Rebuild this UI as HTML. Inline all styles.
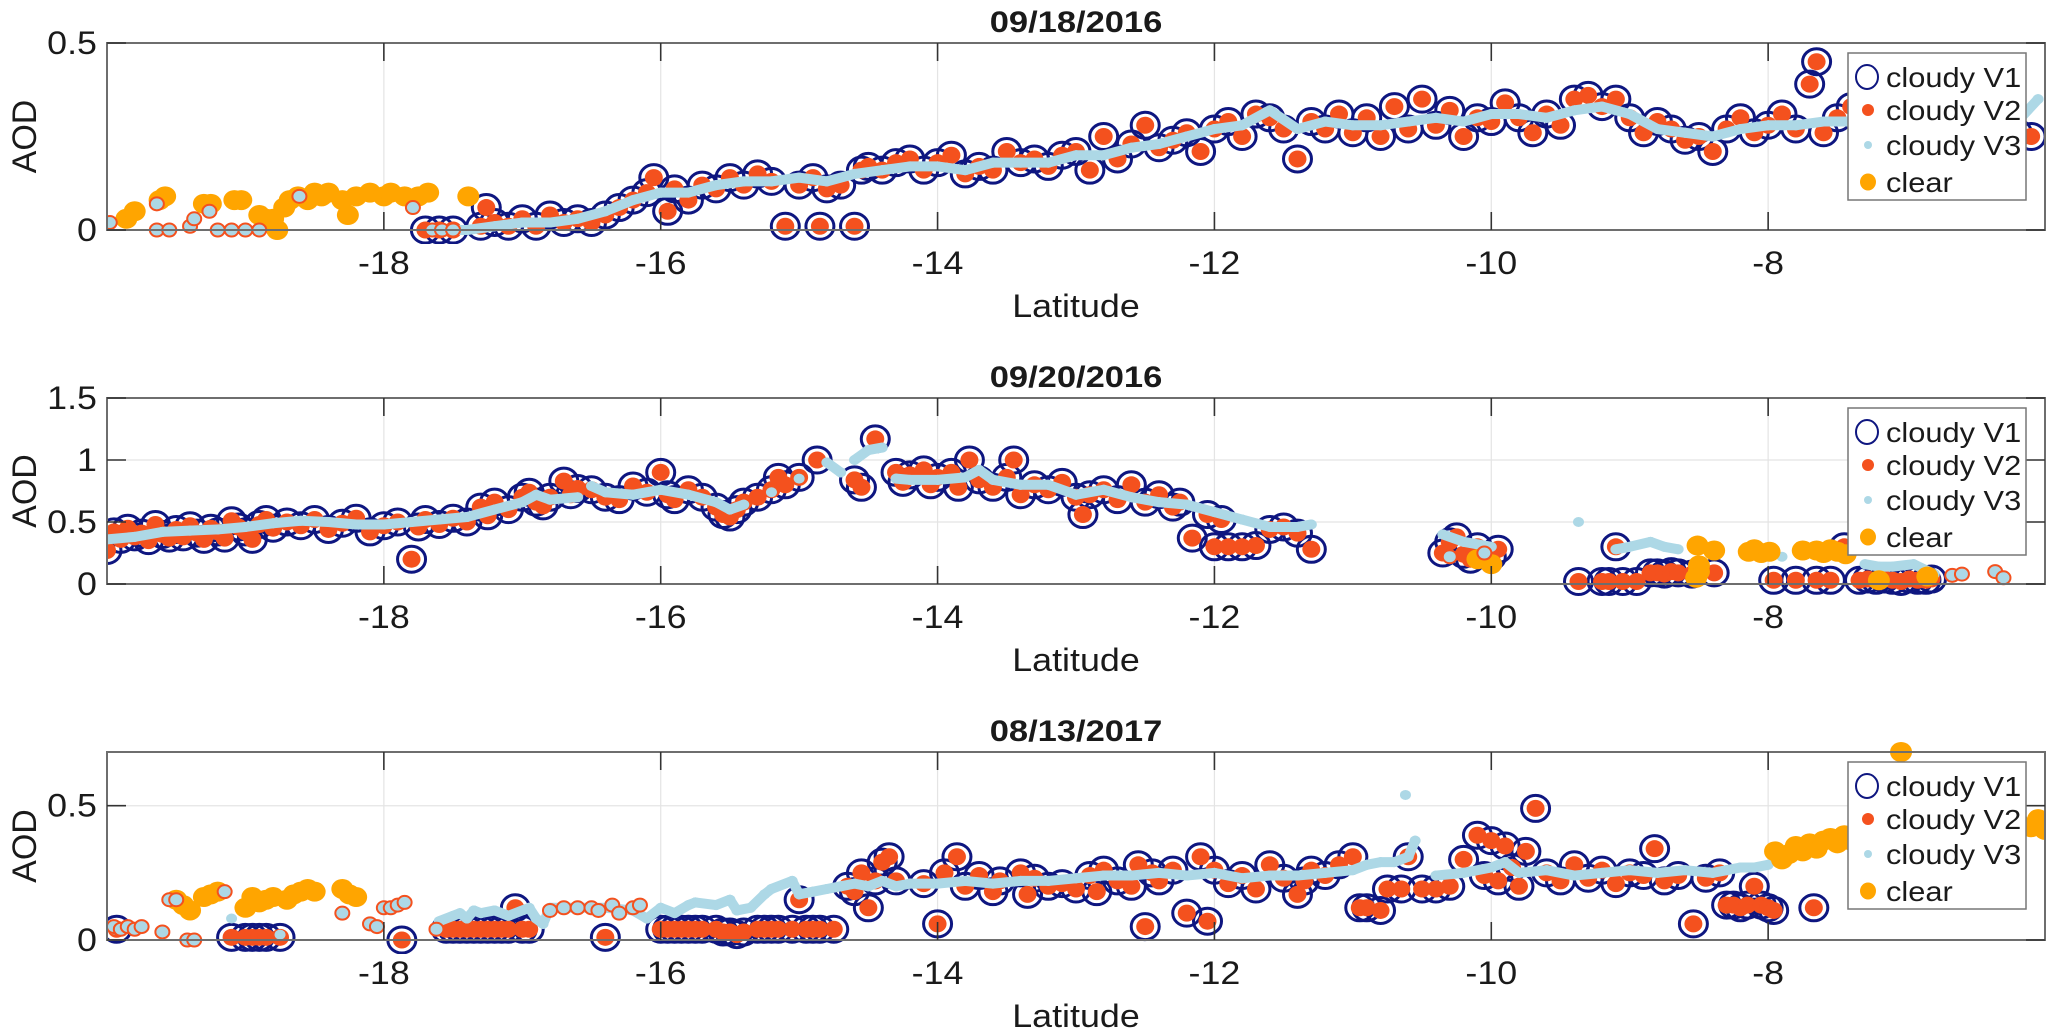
<!DOCTYPE html>
<html>
<head>
<meta charset="utf-8">
<style>
html,body{margin:0;padding:0;background:#fff;}
svg{display:block;}
text{font-family:"Liberation Sans",Arial,sans-serif;fill:#1a1a1a;}
</style>
</head>
<body>
<svg id="chart" width="2067" height="1034" viewBox="0 0 2067 1034" xmlns="http://www.w3.org/2000/svg">
<rect x="0" y="0" width="2067" height="1034" fill="#fff"/>
</svg>
<script>
// ---------- Panel 1: 09/18/2016 ----------
const p1CloudyLat=[-17.7,-17.6,-17.5,-17.26,-17.3,-17.2,-17.1,-17.0,-16.9,-16.8,-16.7,-16.6,-16.5,-16.4,-16.3,-16.2,-16.1,-16.05,-15.95,-15.9,-15.8,-15.7,-15.6,-15.5,-15.4,-15.3,-15.2,-15.1,-15.0,-14.9,-14.85,-14.8,-14.7,-14.6,-14.55,-14.5,-14.4,-14.3,-14.2,-14.1,-14.0,-13.9,-13.8,-13.7,-13.6,-13.5,-13.4,-13.3,-13.2,-13.1,-13.0,-12.9,-12.8,-12.7,-12.6,-12.5,-12.4,-12.3,-12.2,-12.1,-12.0,-11.9,-11.8,-11.7,-11.6,-11.5,-11.4,-11.3,-11.2,-11.1,-11.0,-10.9,-10.8,-10.7,-10.6,-10.5,-10.4,-10.3,-10.2,-10.1,-10.0,-9.9,-9.8,-9.7,-9.6,-9.5,-9.4,-9.3,-9.2,-9.1,-9.0,-8.9,-8.8,-8.7,-8.6,-8.5,-8.4,-8.3,-8.2,-8.1,-8.0,-7.9,-7.8,-7.7,-7.65,-7.6,-7.5,-7.4,-7.3,-7.2,-7.1,-7.0,-6.9,-6.8,-6.7,-6.6,-6.5,-6.4,-6.3,-6.2,-6.1];
const p1CloudyAod=[0.00,0.00,0.00,0.06,0.01,0.02,0.01,0.03,0.01,0.04,0.02,0.03,0.02,0.04,0.06,0.08,0.10,0.14,0.05,0.11,0.08,0.12,0.11,0.14,0.12,0.15,0.13,0.01,0.12,0.14,0.01,0.11,0.12,0.01,0.16,0.17,0.16,0.18,0.19,0.16,0.18,0.20,0.15,0.17,0.16,0.21,0.18,0.19,0.17,0.20,0.21,0.16,0.25,0.19,0.23,0.28,0.22,0.24,0.26,0.21,0.27,0.29,0.25,0.31,0.30,0.27,0.19,0.29,0.27,0.31,0.26,0.30,0.25,0.33,0.27,0.35,0.28,0.32,0.25,0.30,0.29,0.34,0.30,0.26,0.31,0.28,0.35,0.36,0.33,0.35,0.30,0.26,0.29,0.27,0.24,0.25,0.21,0.27,0.30,0.26,0.28,0.31,0.27,0.39,0.45,0.26,0.30,0.33,0.28,0.30,0.27,0.31,0.29,0.30,0.32,0.33,0.28,0.30,0.27,0.26,0.25];
const p1V3Lat=[-17.6,-17.4,-17.2,-17.0,-16.8,-16.6,-16.4,-16.2,-16.0,-15.8,-15.6,-15.4,-15.2,-15.0,-14.8,-14.6,-14.4,-14.2,-14.0,-13.8,-13.6,-13.4,-13.2,-13.0,-12.8,-12.6,-12.4,-12.2,-12.0,-11.8,-11.6,-11.4,-11.2,-11.0,-10.8,-10.6,-10.4,-10.2,-10.0,-9.8,-9.6,-9.4,-9.2,-9.0,-8.8,-8.6,-8.4,-8.2,-8.0,-7.8,-7.6,-7.4,-7.2,-7.0,-6.8,-6.6,-6.4,-6.2,-6.05];
const p1V3Aod=[0.0,0.0,0.01,0.02,0.02,0.03,0.05,0.08,0.10,0.10,0.12,0.13,0.13,0.14,0.13,0.15,0.16,0.17,0.17,0.16,0.18,0.18,0.18,0.20,0.20,0.22,0.23,0.25,0.27,0.28,0.32,0.27,0.29,0.28,0.28,0.29,0.30,0.29,0.31,0.31,0.30,0.32,0.33,0.31,0.27,0.26,0.25,0.27,0.28,0.28,0.29,0.29,0.30,0.29,0.30,0.30,0.30,0.29,0.35];
const p1ClearLat=[-19.86,-19.8,-19.62,-19.58,-19.3,-19.25,-19.08,-19.03,-18.9,-18.85,-18.8,-18.77,-18.72,-18.68,-18.62,-18.55,-18.5,-18.45,-18.4,-18.3,-18.26,-18.2,-18.1,-18.0,-17.95,-17.85,-17.75,-17.68,-17.39];
const p1ClearAod=[0.03,0.05,0.08,0.09,0.07,0.07,0.08,0.08,0.04,0.03,0.03,0.00,0.06,0.08,0.09,0.08,0.10,0.09,0.10,0.08,0.04,0.09,0.10,0.09,0.10,0.09,0.09,0.10,0.09];
const p1FlagLat=[-19.98,-19.64,-19.64,-19.55,-19.4,-19.37,-19.26,-19.2,-19.1,-19.0,-18.9,-18.61,-17.79,-17.65,-17.58,-17.5];
const p1FlagAod=[0.02,0.07,0.0,0.0,0.01,0.03,0.05,0.0,0.0,0.0,0.0,0.09,0.06,0.0,0.0,0.0];

// ---------- Panel 2: 09/20/2016 ----------
const p2CloudyLat=[-20.0,-19.95,-19.9,-19.85,-19.8,-19.75,-19.7,-19.65,-19.6,-19.55,-19.5,-19.45,-19.4,-19.35,-19.3,-19.25,-19.2,-19.15,-19.1,-19.05,-19.0,-18.95,-18.9,-18.85,-18.8,-18.7,-18.6,-18.5,-18.4,-18.3,-18.2,-18.1,-18.0,-17.9,-17.8,-17.75,-17.7,-17.6,-17.5,-17.4,-17.3,-17.25,-17.2,-17.1,-17.0,-16.95,-16.9,-16.85,-16.8,-16.7,-16.65,-16.6,-16.5,-16.4,-16.3,-16.2,-16.1,-16.0,-15.95,-15.9,-15.8,-15.7,-15.6,-15.55,-15.5,-15.45,-15.4,-15.3,-15.2,-15.15,-15.1,-15.0,-14.87,-14.6,-14.55,-14.45,-14.3,-14.25,-14.2,-14.1,-14.05,-14.0,-13.9,-13.85,-13.77,-13.7,-13.6,-13.5,-13.45,-13.4,-13.3,-13.2,-13.1,-13.0,-12.95,-12.9,-12.8,-12.7,-12.6,-12.5,-12.4,-12.3,-12.25,-12.16,-12.05,-12.0,-11.95,-11.9,-11.8,-11.7,-11.6,-11.5,-11.4,-11.3,-10.35,-10.3,-10.25,-10.2,-10.15,-10.1,-10.0,-9.95,-9.37,-9.2,-9.15,-9.1,-9.05,-8.95,-8.85,-8.8,-8.75,-8.7,-8.65,-8.55,-8.39,-7.96,-7.8,-7.65,-7.55,-7.45,-7.34,-7.28,-7.22,-7.16,-7.1,-7.04,-6.98,-6.92,-6.86,-6.82];
const p2CloudyAod=[0.27,0.42,0.36,0.45,0.38,0.41,0.35,0.48,0.40,0.37,0.44,0.38,0.47,0.41,0.36,0.45,0.42,0.37,0.51,0.46,0.42,0.36,0.48,0.52,0.45,0.50,0.47,0.52,0.44,0.49,0.53,0.42,0.47,0.50,0.20,0.46,0.52,0.48,0.53,0.50,0.62,0.55,0.66,0.60,0.70,0.74,0.66,0.63,0.70,0.83,0.72,0.77,0.76,0.70,0.68,0.79,0.74,0.90,0.72,0.68,0.76,0.70,0.62,0.56,0.54,0.60,0.66,0.70,0.76,0.86,0.80,0.86,1.00,0.84,0.78,1.17,0.90,0.82,0.88,0.92,0.80,0.86,0.90,0.78,1.00,0.84,0.78,0.86,1.00,0.72,0.80,0.76,0.82,0.70,0.56,0.72,0.76,0.68,0.80,0.66,0.72,0.62,0.66,0.37,0.56,0.30,0.52,0.30,0.30,0.31,0.44,0.46,0.41,0.28,0.25,0.34,0.38,0.24,0.20,0.30,0.22,0.28,0.02,0.02,0.02,0.30,0.02,0.02,0.09,0.09,0.08,0.10,0.09,0.08,0.09,0.03,0.03,0.03,0.03,0.30,0.03,0.04,0.03,0.04,0.03,0.02,0.04,0.03,0.03,0.04];
const p2V3Lat=[-20.0,-19.8,-19.6,-19.4,-19.2,-19.0,-18.8,-18.6,-18.4,-18.2,-18.0,-17.8,-17.6,-17.4,-17.2,-17.0,-16.9,-16.8,-16.6,-16.5,-16.4,-16.2,-16.0,-15.8,-15.6,-15.5,-15.4,-15.2,-15.0,-14.8,-14.7,-14.6,-14.5,-14.4,-14.3,-14.2,-14.0,-13.8,-13.7,-13.6,-13.4,-13.2,-13.0,-12.8,-12.6,-12.4,-12.2,-12.0,-11.8,-11.6,-11.4,-11.3,-10.35,-10.2,-10.0,-9.37,-9.1,-9.0,-8.85,-8.75,-8.65,-7.9,-7.3,-7.2,-7.1,-6.95,-6.8];
const p2V3Aod=[0.36,0.38,0.42,0.43,0.44,0.46,0.49,0.51,0.50,0.48,0.48,0.50,0.52,0.54,0.60,0.66,0.72,0.68,0.70,0.79,0.74,0.72,0.76,0.72,0.66,0.60,0.64,0.74,0.85,0.98,0.90,1.0,1.08,1.1,0.85,0.84,0.84,0.86,0.92,0.84,0.80,0.80,0.72,0.76,0.70,0.66,0.64,0.58,0.52,0.46,0.46,0.48,0.40,0.34,0.30,0.50,0.28,0.30,0.34,0.30,0.28,0.22,0.16,0.14,0.14,0.16,0.08];
const p2ClearLat=[-10.1,-10.0,-8.51,-8.5,-8.5,-8.52,-8.39,-8.14,-8.1,-8.05,-7.99,-7.75,-7.65,-7.6,-7.55,-7.5,-7.44,-7.2,-6.85];
const p2ClearAod=[0.20,0.16,0.31,0.15,0.10,0.05,0.27,0.26,0.28,0.25,0.26,0.27,0.27,0.25,0.28,0.26,0.24,0.03,0.06];
const p2FlagLat=[-10.3,-10.05,-6.67,-6.36,-6.3,-6.6];
const p2FlagAod=[0.22,0.25,0.07,0.10,0.05,0.08];

// ---------- Panel 3: 08/13/2017 ----------
const p3CloudyLat=[-19.93,-19.1,-19.0,-18.95,-18.9,-18.85,-18.75,-17.87,-17.55,-17.5,-17.45,-17.4,-17.35,-17.3,-17.25,-17.2,-17.15,-17.1,-17.05,-17.0,-16.95,-16.4,-16.0,-15.95,-15.9,-15.85,-15.8,-15.75,-15.7,-15.6,-15.55,-15.5,-15.45,-15.4,-15.3,-15.25,-15.2,-15.15,-15.05,-15.0,-14.95,-14.9,-14.85,-14.75,-14.65,-14.6,-14.55,-14.5,-14.45,-14.4,-14.35,-14.3,-14.1,-14.0,-13.95,-13.86,-13.8,-13.7,-13.6,-13.55,-13.4,-13.35,-13.3,-13.2,-13.1,-13.0,-12.9,-12.85,-12.8,-12.7,-12.6,-12.55,-12.5,-12.45,-12.4,-12.3,-12.2,-12.1,-12.05,-12.0,-11.9,-11.8,-11.7,-11.6,-11.5,-11.4,-11.35,-11.3,-11.2,-11.1,-11.0,-10.95,-10.9,-10.8,-10.75,-10.65,-10.6,-10.5,-10.4,-10.3,-10.2,-10.1,-10.05,-10.0,-9.95,-9.9,-9.85,-9.8,-9.75,-9.68,-9.6,-9.5,-9.4,-9.3,-9.2,-9.1,-9.0,-8.9,-8.82,-8.75,-8.65,-8.54,-8.45,-8.35,-8.3,-8.25,-8.2,-8.15,-8.1,-8.05,-8.0,-7.96,-7.67];
const p3CloudyAod=[0.04,0.01,0.01,0.01,0.01,0.01,0.01,0.0,0.04,0.04,0.04,0.04,0.04,0.04,0.04,0.04,0.04,0.04,0.12,0.04,0.04,0.01,0.04,0.04,0.04,0.04,0.04,0.04,0.04,0.04,0.03,0.03,0.02,0.03,0.04,0.04,0.04,0.04,0.04,0.15,0.04,0.04,0.04,0.04,0.20,0.18,0.25,0.12,0.22,0.29,0.31,0.22,0.21,0.06,0.25,0.31,0.20,0.24,0.18,0.22,0.25,0.17,0.23,0.20,0.21,0.19,0.24,0.18,0.26,0.22,0.20,0.28,0.05,0.25,0.22,0.26,0.10,0.31,0.07,0.26,0.21,0.24,0.19,0.28,0.23,0.17,0.22,0.26,0.24,0.28,0.31,0.12,0.12,0.11,0.19,0.19,0.31,0.19,0.19,0.20,0.30,0.39,0.24,0.37,0.22,0.35,0.27,0.20,0.33,0.49,0.25,0.22,0.28,0.23,0.26,0.21,0.25,0.24,0.34,0.22,0.24,0.06,0.23,0.25,0.13,0.13,0.12,0.13,0.20,0.13,0.12,0.11,0.12];
const p3V3Lat=[-19.95,-19.85,-19.1,-18.75,-17.6,-17.5,-17.45,-17.4,-17.35,-17.3,-17.2,-17.1,-16.95,-16.9,-16.85,-16.8,-16.6,-16.4,-16.2,-16.1,-16.0,-15.9,-15.8,-15.75,-15.6,-15.5,-15.45,-15.35,-15.25,-15.2,-15.05,-15.0,-14.9,-14.8,-14.7,-14.6,-14.5,-14.4,-14.3,-14.2,-14.0,-13.8,-13.6,-13.4,-13.2,-13.0,-12.8,-12.6,-12.4,-12.2,-12.0,-11.8,-11.6,-11.4,-11.2,-11.0,-10.9,-10.8,-10.7,-10.6,-10.55,-10.62,-10.4,-10.2,-10.0,-9.9,-9.8,-9.6,-9.4,-9.2,-9.0,-8.8,-8.6,-8.4,-8.3,-8.2,-8.1,-8.0];
const p3V3Aod=[0.04,0.05,0.08,0.02,0.07,0.09,0.10,0.08,0.11,0.10,0.11,0.09,0.12,0.08,0.06,0.12,0.12,0.12,0.11,0.08,0.12,0.10,0.13,0.14,0.13,0.15,0.11,0.12,0.17,0.19,0.22,0.17,0.18,0.19,0.20,0.21,0.20,0.22,0.20,0.21,0.21,0.22,0.21,0.22,0.22,0.23,0.24,0.24,0.25,0.24,0.25,0.23,0.24,0.24,0.25,0.26,0.28,0.29,0.29,0.31,0.37,0.54,0.24,0.25,0.27,0.29,0.25,0.26,0.24,0.25,0.26,0.25,0.26,0.25,0.26,0.27,0.27,0.28];
const p3ClearLat=[-19.5,-19.45,-19.4,-19.3,-19.25,-19.2,-19.0,-18.95,-18.9,-18.85,-18.8,-18.7,-18.65,-18.6,-18.55,-18.5,-18.3,-18.25,-18.2,-7.95,-7.9,-7.85,-7.8,-7.75,-7.7,-7.65,-7.6,-7.55,-7.5,-7.45,-7.4,-7.3,-7.2,-7.1,-7.04,-7.0,-6.9,-6.8,-6.7,-6.6,-6.5,-6.4,-6.3,-6.2,-6.1,-6.05,-6.0];
const p3ClearAod=[0.15,0.13,0.11,0.16,0.17,0.18,0.12,0.16,0.14,0.15,0.16,0.15,0.17,0.18,0.19,0.18,0.19,0.17,0.16,0.33,0.30,0.32,0.35,0.33,0.36,0.34,0.37,0.38,0.36,0.39,0.37,0.38,0.40,0.39,0.70,0.41,0.40,0.38,0.42,0.40,0.41,0.43,0.42,0.44,0.42,0.45,0.41];
const p3FlagLat=[-19.95,-19.9,-19.85,-19.8,-19.75,-19.6,-19.55,-19.5,-19.42,-19.37,-19.15,-18.3,-18.1,-18.05,-18.0,-17.95,-17.9,-17.85,-17.62,-16.8,-16.7,-16.6,-16.5,-16.45,-16.35,-16.3,-16.2,-16.15];
const p3FlagAod=[0.05,0.04,0.05,0.04,0.05,0.03,0.15,0.15,0.0,0.0,0.18,0.10,0.06,0.05,0.12,0.12,0.13,0.14,0.04,0.11,0.12,0.12,0.12,0.11,0.13,0.10,0.12,0.13];

// ---------- axes / labels ----------
const panelTitles=["09/18/2016","09/20/2016","08/13/2017"];
const xTicks=[-18,-16,-14,-12,-10,-8];
const yTicks1=[0,0.5];
const yTicks2=[0,0.5,1,1.5];
const yTicks3=[0,0.5];
const yTickLabels1=["0","0.5"];
const yTickLabels2=["0","0.5","1","1.5"];
const yTickLabels3=["0","0.5"];
const legendLabels=["cloudy V1","cloudy V2","cloudy V3","clear"];

const NS="http://www.w3.org/2000/svg";
const svg=document.getElementById('chart');
const X0=107,X1=2045,XMIN=-20,XMAX=-6;
const C_V1="#0e1680",C_V2="#f4511e",C_V3="#add8e6",C_CLR="#ffa500";
function xScale(lat){return X0+(lat-XMIN)/(XMAX-XMIN)*(X1-X0);}
function mk(tag,attrs,parent){const e=document.createElementNS(NS,tag);for(const k in attrs)e.setAttribute(k,attrs[k]);(parent||svg).appendChild(e);return e;}
function txt(str,x,y,size,anchor,weight,parent,sx){
  const t=mk('text',{transform:`translate(${x},${y}) scale(${sx||1.12},1)`,'font-size':size,'text-anchor':anchor,'font-weight':weight||'normal'},parent);
  t.textContent=str;return t;
}

const panels=[
 {top:43,bottom:230,ymax:0.5,yt:yTicks1,yl:yTickLabels1,cLat:p1CloudyLat,cAod:p1CloudyAod,v3Lat:p1V3Lat,v3Aod:p1V3Aod,clLat:p1ClearLat,clAod:p1ClearAod,fLat:p1FlagLat,fAod:p1FlagAod},
 {top:398,bottom:584,ymax:1.5,yt:yTicks2,yl:yTickLabels2,cLat:p2CloudyLat,cAod:p2CloudyAod,v3Lat:p2V3Lat,v3Aod:p2V3Aod,clLat:p2ClearLat,clAod:p2ClearAod,fLat:p2FlagLat,fAod:p2FlagAod},
 {top:752,bottom:940,ymax:0.7,yt:yTicks3,yl:yTickLabels3,cLat:p3CloudyLat,cAod:p3CloudyAod,v3Lat:p3V3Lat,v3Aod:p3V3Aod,clLat:p3ClearLat,clAod:p3ClearAod,fLat:p3FlagLat,fAod:p3FlagAod}
];

panels.forEach((P,pi)=>{
  const g=mk('g',{});
  
  
  const yScale=v=>P.bottom-(v/P.ymax)*(P.bottom-P.top);
  const defs=mk('defs',{},g);
  const cp=mk('clipPath',{id:'clip'+pi},defs);
  mk('rect',{x:X0,y:P.top-14,width:X1-X0,height:P.bottom-P.top+28},cp);
  const grid=mk('g',{stroke:'#e4e4e4','stroke-width':1.2},g);
  
  
  xTicks.forEach(t=>mk('line',{x1:xScale(t),x2:xScale(t),y1:P.top,y2:P.bottom},grid));
  P.yt.forEach(t=>mk('line',{x1:X0,x2:X1,y1:yScale(t),y2:yScale(t)},grid));
  const data=mk('g',{'clip-path':`url(#clip${pi})`},g);
  
  
  P.cLat.forEach((la,i)=>{
    const c=mk('ellipse',{cx:xScale(la),cy:yScale(P.cAod[i]),rx:14,ry:13,fill:'none',stroke:C_V1,'stroke-width':3},data);
    
    
  });
  P.cLat.forEach((la,i)=>{
    const c=mk('ellipse',{cx:xScale(la),cy:yScale(P.cAod[i]),rx:9,ry:8.5,fill:C_V2},data);
    
    
  });
  for(let i=1;i<P.v3Lat.length;i++){
    if(Math.abs(P.v3Lat[i]-P.v3Lat[i-1])<=0.25 && Math.abs(P.v3Aod[i]-P.v3Aod[i-1])<0.09){
      const l=mk('line',{x1:xScale(P.v3Lat[i-1]),y1:yScale(P.v3Aod[i-1]),x2:xScale(P.v3Lat[i]),y2:yScale(P.v3Aod[i]),stroke:C_V3,'stroke-width':10,'stroke-linecap':'round'},data);
      
      
    }
  }
  P.v3Lat.forEach((la,i)=>{
    const c=mk('ellipse',{cx:xScale(la),cy:yScale(P.v3Aod[i]),rx:5.5,ry:5,fill:C_V3},data);
    
    
  });
  P.clLat.forEach((la,i)=>{
    const c=mk('ellipse',{cx:xScale(la),cy:yScale(P.clAod[i]),rx:11,ry:10,fill:C_CLR},data);
    
    
  });
  P.fLat.forEach((la,i)=>{
    const c=mk('ellipse',{cx:xScale(la),cy:yScale(P.fAod[i]),rx:7,ry:6.5,fill:C_V3,stroke:C_V2,'stroke-width':2},data);
    
    
  });
  const box=mk('rect',{x:X0,y:P.top,width:X1-X0,height:P.bottom-P.top,fill:'none',stroke:'#6e6e6e','stroke-width':2},g);
  
  
  const ticks=mk('g',{stroke:'#333','stroke-width':1.6},g);
  
  
  xTicks.forEach(t=>{const x=xScale(t);mk('line',{x1:x,x2:x,y1:P.bottom,y2:P.bottom-18},ticks);mk('line',{x1:x,x2:x,y1:P.top,y2:P.top+18},ticks);});
  P.yt.forEach(t=>{const y=yScale(t);mk('line',{x1:X0,x2:X0+19,y1:y,y2:y},ticks);mk('line',{x1:X1,x2:X1-19,y1:y,y2:y},ticks);});
  xTicks.forEach(t=>{
    const l=txt(String(t),xScale(t),P.bottom+44,32,'middle','normal',g);
    
    
  });
  P.yt.forEach((t,i)=>{
    const l=txt(P.yl[i],97,yScale(t)+11,32,'end','normal',g);
    
    
  });
  const xt=txt('Latitude',(X0+X1)/2,P.bottom+87,32,'middle','normal',g);
  
  
  const yc=(P.top+P.bottom)/2;
  const yt=mk('text',{transform:`translate(36,${yc}) rotate(-90)`,'font-size':34,'text-anchor':'middle'},g);
  yt.textContent='AOD';
  
  
  const tt=txt(panelTitles[pi],(X0+X1)/2,P.top-11,30,'middle','bold',g,1.15);
  
  
  const lg=mk('g',{},g);
  
  
  const lt=P.top+10;
  mk('rect',{x:1848,y:lt,width:178,height:147,fill:'#fff',stroke:'#777','stroke-width':1.5},lg);
  const rowY=[lt+24,lt+57,lt+92,lt+129];
  legendLabels.forEach((s,i)=>{
    const y=rowY[i];
    if(i===0)mk('ellipse',{cx:1867,cy:y,rx:11,ry:12,fill:'none',stroke:C_V1,'stroke-width':2},lg);
    if(i===1)mk('ellipse',{cx:1868,cy:y,rx:6,ry:6,fill:C_V2},lg);
    if(i===2)mk('ellipse',{cx:1868,cy:y,rx:4,ry:4,fill:C_V3},lg);
    if(i===3)mk('ellipse',{cx:1868,cy:y,rx:8,ry:8.5,fill:C_CLR},lg);
    const t=txt(s,1886,y+10,28,'start','normal',lg,1.1);
    
    
  });
});
</script>
</body>
</html>
